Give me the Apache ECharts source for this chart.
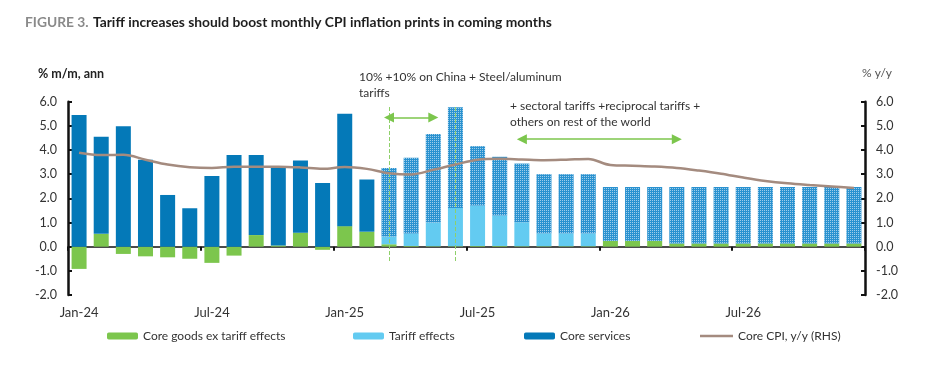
<!DOCTYPE html>
<html>
<head>
<meta charset="utf-8">
<script src="https://cdn.jsdelivr.net/npm/echarts@6/dist/echarts.min.js"></script>
<style>
  html, body { margin: 0; padding: 0; background: #fff; }
  #chart { width: 925px; height: 369px; }
</style>
</head>
<body>
<div id="chart"></div>
<script>
const categories = [
  'Jan-24','Feb-24','Mar-24','Apr-24','May-24','Jun-24','Jul-24','Aug-24','Sep-24','Oct-24','Nov-24','Dec-24',
  'Jan-25','Feb-25','Mar-25','Apr-25','May-25','Jun-25','Jul-25','Aug-25','Sep-25','Oct-25','Nov-25','Dec-25',
  'Jan-26','Feb-26','Mar-26','Apr-26','May-26','Jun-26','Jul-26','Aug-26','Sep-26','Oct-26','Nov-26','Dec-26'
];
const coreGoods = [
  -0.92, 0.53, -0.30, -0.40, -0.44, -0.50, -0.67, -0.37, 0.48, 0.05, 0.58, -0.13,
  0.85, 0.62, 0.10, 0.03, 0.02, 0.02, 0.03, 0.03, 0.02, 0.02, 0.02, 0.02,
  0.24, 0.24, 0.24, 0.13, 0.13, 0.13, 0.13, 0.13, 0.13, 0.13, 0.13, 0.13
];
const tariffEffects = [
  0, 0, 0, 0, 0, 0, 0, 0, 0, 0, 0, 0,
  0, 0, 0.32, 0.52, 0.98, 1.58, 1.67, 1.26, 0.99, 0.53, 0.53, 0.53,
  0, 0, 0, 0, 0, 0, 0, 0, 0, 0, 0, 0
];
const coreServices = [
  5.45, 4.02, 4.98, 3.60, 2.14, 1.59, 2.92, 3.79, 3.31, 3.27, 2.99, 2.64,
  4.65, 2.16, 2.84, 3.13, 3.66, 4.17, 2.46, 2.43, 2.43, 2.45, 2.45, 2.45,
  2.23, 2.23, 2.23, 2.34, 2.34, 2.34, 2.34, 2.34, 2.34, 2.34, 2.34, 2.34
];
const coreCpiYoY = [
  3.89, 3.79, 3.80, 3.60, 3.40, 3.29, 3.26, 3.31, 3.31, 3.31, 3.28, 3.22,
  3.30, 3.22, 3.04, 2.99, 3.18, 3.40, 3.60, 3.64, 3.61, 3.58, 3.60, 3.63,
  3.38, 3.35, 3.32, 3.26, 3.15, 3.02, 2.86, 2.72, 2.62, 2.55, 2.49, 2.43
];
const seriesNames = ['Core goods ex tariff effects', 'Tariff effects', 'Core services', 'Core CPI, y/y (RHS)'];
const forecastStart = 'Mar-25';
const axisMin = -2, axisMax = 6, axisStep = 1;
// annotation anchors (category index position, value)
const phase1Lines = [14.11, 17.0];
const phase1LineTop = 5.78, phase1LineBottom = -0.66;
const phase1Arrow = [14.36, 16.44];
const phase1ArrowY = 5.35;
const phase2Arrow = [19.55, 27.19];
const phase2ArrowY = 4.45;
const note1 = '10% +10% on China + Steel/aluminum\ntariffs';
const note2 = '+ sectoral tariffs +reciprocal tariffs +\nothers on rest of the world';

const FONT = 'Lato, "Liberation Sans", sans-serif';
const C_GREEN = '#7cc64d', C_LIGHT = '#63cbf1', C_DARK = '#0479b8', C_LINE = '#a48b7f';
const C_DASH = '#8fd06a';
const fcIdx = categories.indexOf(forecastStart);

const decal = {
  symbol: 'rect', symbolSize: 1, color: 'rgba(255,255,255,0.55)',
  dashArrayX: [1, 1], dashArrayY: [1, 1], rotation: 0
};
const servicesData = coreServices.map((v, i) => i >= fcIdx
  ? { value: v, itemStyle: { color: '#2a92d0', decal: decal } }
  : v);

const chart = echarts.init(document.getElementById('chart'), null, { renderer: 'canvas' });

const legendBase = {
  top: 325, itemWidth: 31, itemHeight: 7, itemGap: 10,
  textStyle: { fontFamily: FONT, fontSize: 12, color: '#333' },
  selectedMode: false
};

const vLine = (x) => [
  { coord: [x, phase1LineTop], symbol: 'none', lineStyle: { color: C_DASH, width: 1, type: [4, 2], opacity: 1 } },
  { coord: [x, phase1LineBottom], symbol: 'none', lineStyle: { color: C_DASH, width: 1, type: [4, 2], opacity: 1 } }
];
const arrow = (range, y) => [
  { coord: [range[0], y], symbol: 'triangle', symbolSize: [10, 10], lineStyle: { color: C_GREEN, width: 1.5, type: 'solid' } },
  { coord: [range[1], y], symbol: 'triangle', symbolSize: [10, 10] }
];

const option = {
  animation: false,
  backgroundColor: '#fff',
  textStyle: { fontFamily: FONT },
  title: {
    left: 25, top: 14, padding: 0,
    text: '{a|FIGURE 3.} {b|Tariff increases should boost monthly CPI inflation prints in coming months}',
    textStyle: {
      rich: {
        a: { fontFamily: FONT, fontWeight: 'bold', fontSize: 13.8, color: '#8a8a8a' },
        b: { fontFamily: FONT, fontWeight: 'bold', fontSize: 13.8, color: '#1e1e1e' }
      }
    }
  },
  legend: [
    Object.assign({}, legendBase, { left: 102, data: [seriesNames[0]] }),
    Object.assign({}, legendBase, { left: 348, data: [seriesNames[1]] }),
    Object.assign({}, legendBase, { left: 519, data: [seriesNames[2]] }),
    Object.assign({}, legendBase, { left: 695, itemWidth: 33, itemHeight: 2.5, data: [{ name: seriesNames[3], icon: 'rect' }] })
  ],
  grid: { left: 68, right: 60, top: 101.7, bottom: 74, containLabel: false },
  xAxis: [
    {
      type: 'category', data: categories, position: 'bottom',
      axisLine: { show: false, onZero: false }, axisTick: { show: false },
      axisLabel: { interval: 5, margin: 11, fontSize: 13, color: '#333', fontFamily: FONT },
      splitLine: { show: false }
    },
    {
      type: 'category', data: categories, position: 'bottom',
      axisLine: { show: true, onZero: true, lineStyle: { color: '#111', width: 1.5 } },
      axisTick: { show: true, interval: 5, length: 4, lineStyle: { color: '#111', width: 2 } },
      axisLabel: { show: false }, splitLine: { show: false }
    }
  ],
  yAxis: [
    {
      type: 'value', min: axisMin, max: axisMax, interval: axisStep, position: 'left',
      axisLine: { show: true, lineStyle: { color: '#111', width: 2.5 } },
      axisTick: { show: true, inside: true, length: 4, lineStyle: { color: '#111', width: 2 } },
      axisLabel: { margin: 11, fontSize: 12.5, color: '#333', fontFamily: FONT, formatter: v => v.toFixed(1) },
      splitLine: { show: false }
    },
    {
      type: 'value', min: axisMin, max: axisMax, interval: axisStep, position: 'right',
      axisLine: { show: true, lineStyle: { color: '#111', width: 2.5 } },
      axisTick: { show: true, inside: true, length: 4, lineStyle: { color: '#111', width: 2 } },
      axisLabel: { margin: 11, fontSize: 12.5, color: '#333', fontFamily: FONT, formatter: v => v.toFixed(1) },
      splitLine: { show: false }
    }
  ],
  graphic: [
    { type: 'text', left: 38, top: 67, style: { text: '% m/m, ann', font: 'bold 12.5px ' + FONT, fill: '#222' } },
    { type: 'text', left: 862, top: 67, style: { text: '% y/y', font: '12px ' + FONT, fill: '#555' } },
    { type: 'text', left: 359, top: 69, style: { text: note1, font: '12px ' + FONT, fill: '#333', lineHeight: 16 } },
    { type: 'text', left: 510, top: 98, style: { text: note2, font: '12px ' + FONT, fill: '#333', lineHeight: 16 } }
  ],
  series: [
    {
      name: seriesNames[0], type: 'bar', stack: 'cpi', barWidth: 15,
      itemStyle: { color: C_GREEN }, data: coreGoods
    },
    {
      name: seriesNames[1], type: 'bar', stack: 'cpi', barWidth: 15,
      itemStyle: { color: C_LIGHT }, data: tariffEffects
    },
    {
      name: seriesNames[2], type: 'bar', stack: 'cpi', barWidth: 15,
      itemStyle: { color: C_DARK }, data: servicesData
    },
    {
      name: seriesNames[3], type: 'line', yAxisIndex: 1, smooth: 0.35, symbol: 'none',
      lineStyle: { color: C_LINE, width: 2.5 }, itemStyle: { color: C_LINE },
      data: coreCpiYoY, z: 5,
      markLine: {
        silent: true, animation: false,
        label: { show: false },
        itemStyle: { color: C_GREEN },
        lineStyle: { color: C_GREEN, opacity: 1 },
        data: [
          vLine(phase1Lines[0]),
          vLine(phase1Lines[1]),
          arrow(phase1Arrow, phase1ArrowY),
          arrow(phase2Arrow, phase2ArrowY)
        ]
      }
    }
  ]
};
chart.setOption(option);
</script>
</body>
</html>
